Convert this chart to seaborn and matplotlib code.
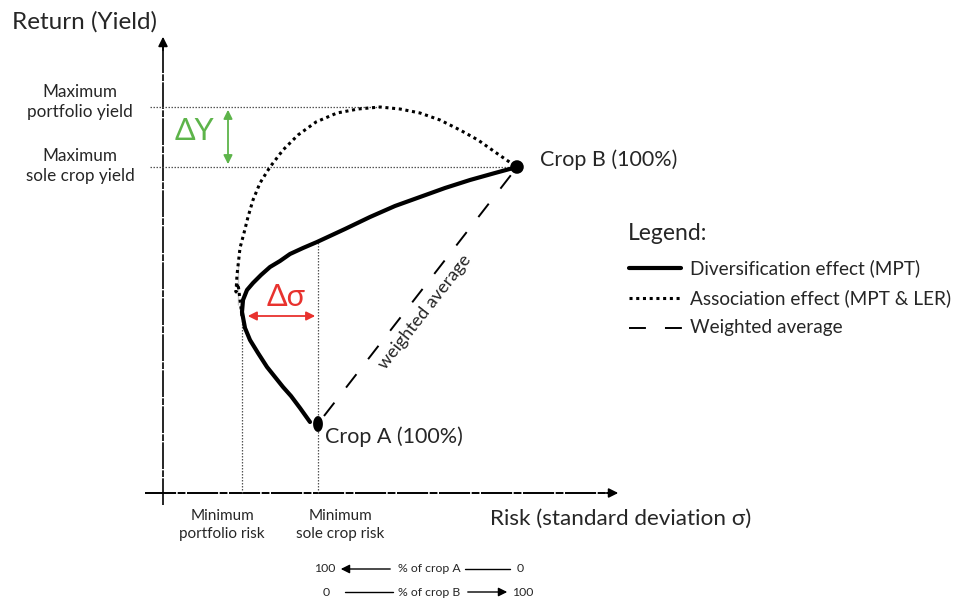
import numpy as np
import seaborn as sns
import matplotlib.pyplot as plt

sns.set_style("white")
plt.rcParams["font.family"] = ["Lato", "DejaVu Sans"]

# risk / return in arbitrary units, origin at the axis crossing
crop_risk = [15.5, 35.4]
crop_return = [6.9, 32.6]
crop_names = ["Crop A (100%)", "Crop B (100%)"]

min_portfolio_risk = 7.9
min_portfolio_return = 18.0
max_portfolio_yield = 38.6
max_portfolio_yield_risk = 21.7
max_sole_yield = 32.6
sole_risk_on_curve = 25.1

# diversification effect (solid)
div_risk = [14.7, 13.7, 12.8, 12.0, 11.2, 10.4, 9.5, 8.7, 8.2, 7.9, 7.9,
            8.0, 8.4, 9.0, 9.8, 10.7, 11.7, 12.7, 14.0, 15.4, 18.2, 20.7,
            23.2, 25.7, 28.2, 30.7, 33.2, 35.4]
div_return = [7.1, 8.5, 9.7, 10.6, 11.6, 12.6, 14.0, 15.3, 16.5, 17.7, 18.5,
              19.3, 20.3, 21.0, 21.8, 22.6, 23.2, 23.9, 24.5, 25.1, 26.4, 27.6,
              28.7, 29.6, 30.5, 31.3, 32.0, 32.6]

# association effect (dotted)
assoc_risk = [7.9, 7.5, 7.3, 7.4, 7.5, 7.7, 8.1, 8.5, 9.0, 9.7, 10.7, 12.0,
              13.5, 15.3, 17.4, 19.5, 21.7, 23.7, 25.7, 27.7, 29.7, 31.5,
              33.2, 34.5, 35.4]
assoc_return = [17.7, 18.8, 20.1, 21.8, 23.1, 24.5, 26.0, 27.6, 29.3, 31.0,
                32.6, 34.3, 35.8, 37.1, 38.0, 38.4, 38.6, 38.4, 38.0, 37.3,
                36.3, 35.3, 34.1, 33.2, 32.6]

legend_labels = ["Diversification effect (MPT)",
                 "Association effect (MPT & LER)",
                 "Weighted average"]

green = "#5db44a"
red = "#e8322e"
dotted = (0, (1.0, 1.2))
dashed = (0, (8.7, 9.8))

fig = plt.figure(figsize=(9.56, 5.98), dpi=100)
ax = fig.add_axes([0, 0, 1, 1])
ax.set_xlim(-16.3, 79.3)
ax.set_ylim(-10.5, 49.3)
ax.axis("off")

# hand drawn axes
rough = (0, (16, 0.8, 4, 0.8))
ax.plot([0, 0], [-1.2, 44.6], color="black", lw=1.2, ls=rough)
ax.plot([-1.8, 44.8], [0, 0], color="black", lw=1.4, ls=rough)
ax.annotate("", xy=(0, 45.9), xytext=(0, 44.0),
            arrowprops=dict(arrowstyle="-|>", color="black", lw=1.2,
                            mutation_scale=14))
ax.annotate("", xy=(45.8, 0), xytext=(44.0, 0),
            arrowprops=dict(arrowstyle="-|>", color="black", lw=1.2,
                            mutation_scale=14))

# guide lines
guide = dict(color="#555555", lw=0.9, ls=(0, (1.2, 1.2)))
ax.plot([min_portfolio_risk, min_portfolio_risk], [0, min_portfolio_return], **guide)
ax.plot([crop_risk[0], crop_risk[0]], [0, sole_risk_on_curve], **guide)
ax.plot([-1.3, max_portfolio_yield_risk], [max_portfolio_yield, max_portfolio_yield], **guide)
ax.plot([-1.3, crop_risk[1]], [max_sole_yield, max_sole_yield], **guide)

# curves
sns.lineplot(x=div_risk, y=div_return, sort=False, color="black", lw=3,
             ax=ax, solid_capstyle="round", solid_joinstyle="round")
sns.lineplot(x=assoc_risk, y=assoc_return, sort=False, color="black", lw=2.2,
             ax=ax, linestyle=dotted)
ax.plot([crop_risk[0] + 0.6, crop_risk[1] - 0.6],
        [crop_return[0] + 0.8, crop_return[1] - 0.8],
        color="black", lw=1.4, ls=dashed)

# crop points (A is drawn a little taller than wide, as in the sketch)
t = np.linspace(0, 2 * np.pi, 40)
oval = np.column_stack([0.62 * np.cos(t), np.sin(t)])
sns.scatterplot(x=crop_risk[:1], y=crop_return[:1], color="black", s=130,
                marker=oval, edgecolor="none", ax=ax, zorder=5)
sns.scatterplot(x=crop_risk[1:], y=crop_return[1:], color="black", s=95,
                edgecolor="none", ax=ax, zorder=5)

ax.text(crop_risk[0] + 0.7, crop_return[0] - 1.3, crop_names[0],
        fontsize=15.5, va="center", ha="left")
ax.text(crop_risk[1] + 2.3, crop_return[1] + 0.7, crop_names[1],
        fontsize=15.5, va="center", ha="left")
ax.text(26.2, 18.1, "weighted average", fontsize=13, rotation=52,
        ha="center", va="center", rotation_mode="anchor")

# delta annotations
ax.annotate("", xy=(6.5, max_portfolio_yield), xytext=(6.5, max_sole_yield),
            arrowprops=dict(arrowstyle="<|-|>", color=green, lw=1.3,
                            mutation_scale=13))
ax.text(3.1, 36.2, "ΔY", color=green, fontsize=22, ha="center", va="center")
ax.annotate("", xy=(8.2, 17.7), xytext=(15.5, 17.7),
            arrowprops=dict(arrowstyle="<|-|>", color=red, lw=1.3,
                            mutation_scale=13))
ax.text(12.3, 19.6, "Δσ", color=red, fontsize=22, ha="center", va="center")

# axis labels
ax.text(-15.1, 47.1, "Return (Yield)", fontsize=17.5, ha="left", va="center")
ax.text(32.7, -2.6, "Risk (standard deviation σ)", fontsize=16.2,
        ha="left", va="center")
ax.text(-8.3, 39.1, "Maximum\nportfolio yield", fontsize=12.3, ha="center",
        va="center", linespacing=1.35)
ax.text(-8.3, 32.7, "Maximum\nsole crop yield", fontsize=12.3, ha="center",
        va="center", linespacing=1.35)
ax.text(5.9, -3.2, "Minimum\nportfolio risk", fontsize=11, ha="center",
        va="center", linespacing=1.4)
ax.text(17.7, -3.2, "Minimum\nsole crop risk", fontsize=11, ha="center",
        va="center", linespacing=1.4)

# legend drawn by hand
ax.text(46.5, 25.9, "Legend:", fontsize=16.5, ha="left", va="center")
leg_y = [22.5, 19.5, 16.5]
ax.plot([46.6, 51.8], [leg_y[0], leg_y[0]], color="black", lw=3)
ax.plot([46.6, 51.8], [leg_y[1], leg_y[1]], color="black", lw=2.2, ls=dotted)
ax.plot([46.6, 51.9], [leg_y[2], leg_y[2]], color="black", lw=1.4, ls=dashed)
for yy, lab in zip(leg_y, legend_labels):
    ax.text(52.7, yy, lab, fontsize=13.7, ha="left", va="center")

# composition scale under the x axis
r1, r2 = -7.6, -9.9
small = 8.8
ax.text(16.2, r1, "100", fontsize=small, ha="center", va="center")
ax.annotate("", xy=(17.5, r1), xytext=(23.0, r1),
            arrowprops=dict(arrowstyle="-|>", color="black", lw=1,
                            mutation_scale=13))
ax.text(26.6, r1, "% of crop A", fontsize=small, ha="center", va="center")
ax.plot([30.2, 34.7], [r1, r1], color="black", lw=1)
ax.text(35.7, r1, "0", fontsize=small, ha="center", va="center")

ax.text(16.3, r2, "0", fontsize=small, ha="center", va="center")
ax.plot([18.2, 23.0], [r2, r2], color="black", lw=1)
ax.text(26.6, r2, "% of crop B", fontsize=small, ha="center", va="center")
ax.annotate("", xy=(34.7, r2), xytext=(30.2, r2),
            arrowprops=dict(arrowstyle="-|>", color="black", lw=1,
                            mutation_scale=13))
ax.text(36.0, r2, "100", fontsize=small, ha="center", va="center")

fig.savefig("out.png", dpi=100)
